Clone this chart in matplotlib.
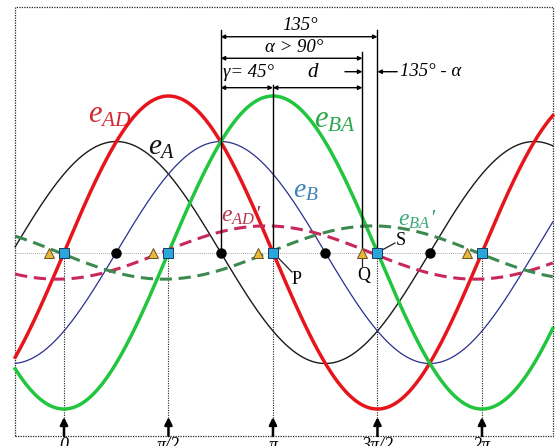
import numpy as np
import matplotlib
matplotlib.use("Agg")
import matplotlib.pyplot as plt

plt.rcParams["font.family"] = ["Liberation Serif", "DejaVu Serif"]
plt.rcParams["font.style"] = "italic"
plt.rcParams["mathtext.fontset"] = "custom"
plt.rcParams["mathtext.it"] = "Liberation Serif:italic"
plt.rcParams["mathtext.rm"] = "Liberation Serif:italic"

# waveform amplitudes (per unit) and phase shifts (degrees): y = amp * sin(theta + phase)
names = ["e_A", "e_B", "e_AD", "e_BA", "e_AD'", "e_BA'"]
amps = [1.0, 1.0, 1.41, 1.41, 0.24, 0.24]
phases = [45, -45, 0, -90, -84, -176]

# angle markers (degrees)
gamma = 45
alpha = 122
span = 135
start = 135
square_pos = [0, 90, 180, 270, 360]
dot_pos = [45, 135, 225, 315]
tri_pos = [s - (span - alpha) for s in square_pos]
tick_labels = ["0", "π/2", "π", "3π/2", "2π"]

fig = plt.figure(figsize=(5.55, 4.46), dpi=100)
ax = fig.add_axes([0, 0, 1, 1])
ax.set_xlim(-55.1, 422.9)
ax.set_ylim(-1.743, 2.275)
ax.axis("off")

th = np.linspace(-42, 421, 900)
def wave(i):
    return amps[i] * np.sin(np.radians(th + phases[i]))

# frame and zero line
x0, x1, y0, y1 = -42.2, 421.1, -1.653, 2.212
ax.plot([x0, x1, x1, x0, x0], [y0, y0, y1, y1, y0], color="#222", lw=0.9, ls=(0, (1, 1)))
ax.plot([x0, x1], [0, 0], color="#aaaaaa", lw=0.7, ls=(0, (1, 1)))

ax.plot(th, wave(0), color="#1a1a1a", lw=1.0, zorder=3)
ax.plot(th, wave(1), color="#2b2f8f", lw=0.9, zorder=3)
ax.plot(th, wave(2), color="#e8141c", lw=2.5, zorder=4)
ax.plot(th, wave(3), color="#22c63e", lw=2.5, zorder=4)
ax.plot(th, wave(4), color="#c8285a", lw=2.2, dashes=(4, 2.2), zorder=5)
ax.plot(th, wave(5), color="#3d8a50", lw=2.2, dashes=(4, 2.2), zorder=5)

# vertical guides from the markers down to the bottom ticks
for s, lab in zip(square_pos, tick_labels):
    ax.plot([s, s], [0, y0], color="#222", lw=0.8, ls=(0, (1, 1.2)), zorder=2)
    ax.annotate("", xy=(s, -1.482), xytext=(s, y0),
                arrowprops=dict(arrowstyle="-|>", color="black", lw=1.8, mutation_scale=11,
                                shrinkA=0, shrinkB=0))
    ax.text(s, -1.664, lab, ha="center", va="top", fontsize=13)

ax.plot(dot_pos, [0] * len(dot_pos), "o", color="black", ms=6.5, zorder=7)
ax.plot(tri_pos, [0] * len(tri_pos), "^", color="#e8b83a", mec="#6a5020", mew=0.7, ms=7, zorder=7)
ax.plot(square_pos, [0] * len(square_pos), "s", color="#2aa6dc", mec="#1a3a5a", mew=0.7, ms=7, zorder=8)

# angle dimension lines
ax.plot([start, start], [0, 2.005], color="black", lw=1.0, zorder=6)
ax.plot([start + gamma] * 2, [0, 1.509], color="black", lw=1.0, zorder=6)
ax.plot([start + alpha] * 2, [0, 1.806], color="black", lw=1.0, zorder=6)
ax.plot([start + span] * 2, [0, 2.005], color="black", lw=1.0, zorder=6)

def dim(xa, xb, y):
    ax.annotate("", xy=(xb, y), xytext=(xa, y),
                arrowprops=dict(arrowstyle="<|-|>", color="black", lw=1.0, mutation_scale=6,
                                shrinkA=0, shrinkB=0))

dim(start, start + span, 1.944)
dim(start, start + alpha, 1.750)
dim(start, start + gamma, 1.485)
dim(start + gamma, start + alpha, 1.485)
ax.annotate("", xy=(start + alpha, 1.629), xytext=(start + alpha - 15, 1.629),
            arrowprops=dict(arrowstyle="-|>", color="black", lw=1.0, mutation_scale=6,
                            shrinkA=0, shrinkB=0))
ax.annotate("", xy=(start + span, 1.629), xytext=(start + span + 17, 1.629),
            arrowprops=dict(arrowstyle="-|>", color="black", lw=1.0, mutation_scale=6,
                            shrinkA=0, shrinkB=0))

ax.text(start + span / 2 + 1, 2.043, f"{span}°", ha="center", va="center", fontsize=13.5)
ax.text(start + alpha / 2 + 2, 1.845, "α > 90°", ha="center", va="center", fontsize=13.5)
ax.text(start + gamma / 2 + 1, 1.620, f"γ= {gamma}°", ha="center", va="center", fontsize=13.5)
ax.text(214, 1.620, "d", ha="center", va="center", fontsize=15)
ax.text(289.5, 1.629, f"{span}° - α", ha="left", va="center", fontsize=13.5)

# waveform labels
ax.text(39.6, 1.24, r"$e_{AD}$", color="#d42a34", fontsize=22, ha="center", va="center")
ax.text(84.4, 0.94, r"$e_{A}$", color="#111111", fontsize=21, ha="center", va="center")
ax.text(233.4, 1.19, r"$e_{BA}$", color="#2aa74a", fontsize=22, ha="center", va="center")
ax.text(208.4, 0.56, r"$e_{B}$", color="#3c82b4", fontsize=20, ha="center", va="center")
ax.text(152.5, 0.33, r"$e_{AD}$'", color="#b5364f", fontsize=17, ha="center", va="center")
ax.text(304, 0.29, r"$e_{BA}$'", color="#3aa87a", fontsize=17, ha="center", va="center")

# point labels P, Q, S
ax.plot([180, 196.4], [0, -0.176], color="#222", lw=0.9, zorder=6)
ax.text(200.7, -0.24, "P", fontsize=13, ha="center", va="center", style="normal")
ax.plot([start + alpha] * 2, [0, -0.12], color="#222", lw=0.9, zorder=6)
ax.text(258.4, -0.21, "Q", fontsize=13, ha="center", va="center", style="normal")
ax.plot([270, 285.1], [0, 0.086], color="#222", lw=0.9, zorder=6)
ax.text(290.5, 0.11, "S", fontsize=13, ha="center", va="center", style="normal")

fig.savefig("out.png", dpi=100)
